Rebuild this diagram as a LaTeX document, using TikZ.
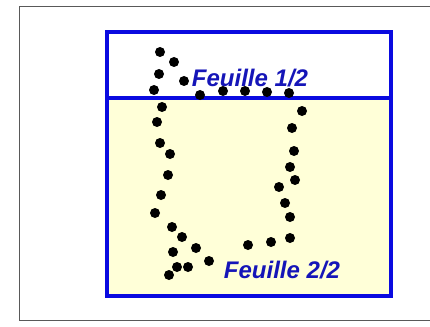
\documentclass[tikz,border=0pt]{standalone}
\usepackage{fontspec}
\setmainfont{Liberation Sans}
\definecolor{boxblue}{HTML}{0A0AE0}
\definecolor{txtblue}{HTML}{1515B8}
\definecolor{paleyel}{HTML}{FFFFD8}
\begin{document}
\begin{tikzpicture}[x=1pt,y=-1pt,
  dot/.style={fill=black,circle,inner sep=0pt,minimum size=10pt},
  lbl/.style={text=txtblue,font=\fontsize{24}{26}\selectfont\bfseries\itshape,inner sep=0pt}]
\useasboundingbox (0,0) rectangle (430,326);
\fill[white] (0,0) rectangle (430,326);
\draw[gray!70!black,line width=0.7pt] (432,6) -- (19,6) -- (19,320) -- (432,320);
% sheets
\fill[white] (107,32) rectangle (391,98);
\fill[paleyel] (107,98) rectangle (391,296);
\draw[boxblue,line width=4pt] (107,32) rectangle (391,296);
\draw[boxblue,line width=3.5pt] (107,98) -- (391,98);
% dots
\foreach \p in {(160,52),(174,62),(159,74),(184,81),(154,90),(200,95),(223,91),(245,91),(267,92),(289,93),
 (302,111),(162,107),(157,122),(160,143),(170,154),(168,175),(161,195),(155,213),(172,227),(182,237),
 (196,248),(173,252),(209,261),(188,267),(177,267),(169,275),(292,128),(294,151),(290,167),(295,180),
 (279,187),(285,203),(290,217),(290,238),(271,242),(248,245)}
  \node[dot] at \p {};
\node[lbl] (f1) at (250,78) {Feuille 1/2};
\node[lbl] (f2) at (282,270) {Feuille 2/2};
\end{tikzpicture}
\end{document}
